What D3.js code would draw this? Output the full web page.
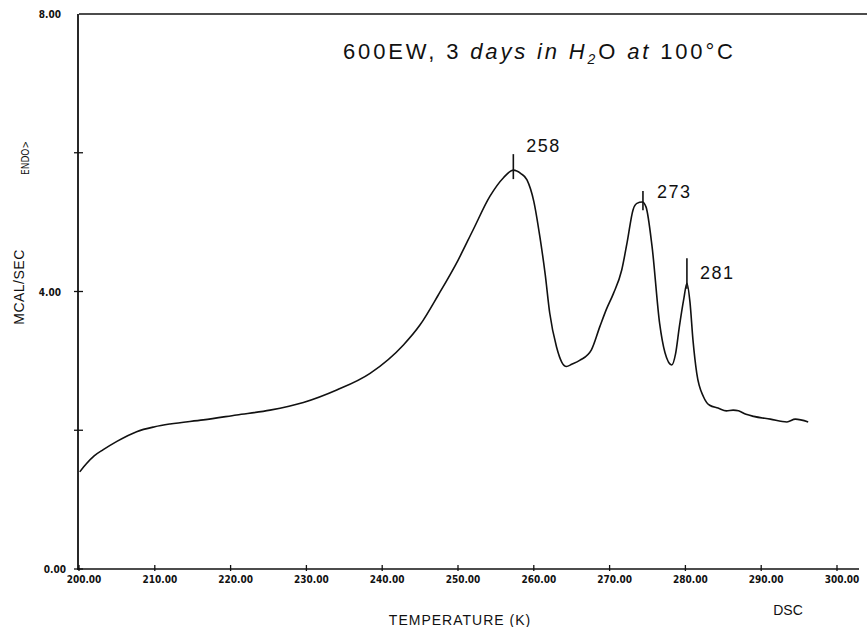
<!DOCTYPE html>
<html>
<head>
<meta charset="utf-8">
<script src="https://cdn.jsdelivr.net/npm/d3@7"></script>
<style>
  body { margin: 0; background: #fff; }
  svg { display: block; }
</style>
</head>
<body>
<div id="viz"></div>
<script>
var temperaturas = [200.1, 201.0, 202.0, 203.2, 205.0, 207.6, 210.0, 212.0, 216.4, 220.8,
  225.2, 229.6, 234.0, 238.4, 242.8, 245.0, 247.4, 250.0, 252.0, 254.2,
  256.0, 257.3, 258.3, 259.1, 260.0, 260.8, 261.5, 262.1, 263.0, 263.7,
  264.3, 265.0, 266.1, 267.6, 268.7, 269.6, 270.5, 271.6, 272.3, 273.1,
  273.6, 274.3, 274.8, 275.6, 276.6, 277.3, 278.2, 278.7,
  279.2, 279.8, 280.2, 280.6, 281.0, 281.5, 282.4, 283.2, 284.3, 285.4,
  286.3, 287.0, 288.0, 289.0, 291.2, 293.4, 294.5, 296.2];
var mcal = [1.40, 1.52, 1.63, 1.72, 1.84, 1.98, 2.05, 2.09, 2.15, 2.22,
  2.29, 2.40, 2.58, 2.82, 3.23, 3.52, 3.95, 4.45, 4.89, 5.37,
  5.64, 5.75, 5.70, 5.61, 5.30, 4.79, 4.25, 3.69, 3.20, 2.98,
  2.92, 2.95, 3.01, 3.16, 3.49, 3.75, 3.97, 4.31, 4.70, 5.18,
  5.27, 5.29, 5.22, 4.65, 3.54, 3.12, 2.94, 3.10,
  3.49, 3.90, 4.12, 3.85, 3.30, 2.82, 2.48, 2.36, 2.32, 2.28,
  2.29, 2.28, 2.23, 2.20, 2.16, 2.12, 2.16, 2.12];

// Picos marcados
var picosTemp = [257.3, 274.4, 280.2];
var picosValor = [5.75, 5.29, 4.12];
var picosTexto = ['258', '273', '281'];

// Ejes
var ticksX = [200, 210, 220, 230, 240, 250, 260, 270, 280, 290, 300];
var ticksY = [0, 2, 4, 6, 8];
var ticksYTexto = ['0.00', '', '4.00', '', '8.00'];

var width = 867, height = 627;
var negro = '#111';

var svg = d3.select('#viz')
  .append('svg')
  .attr('width', width)
  .attr('height', height)
  .style('background', '#fff');

var x = d3.scaleLinear().domain([200, 300]).range([79, 837]);
var y = d3.scaleLinear().domain([0, 8]).range([569, 14]);

// Marco: eje izquierdo, linea superior y eje inferior
svg.append('line')
  .attr('x1', x(200)).attr('y1', y(8))
  .attr('x2', width).attr('y2', y(8))
  .attr('stroke', negro).attr('stroke-width', 1.3);
svg.append('line')
  .attr('x1', x(200) - 1).attr('y1', y(8))
  .attr('x2', x(200) - 1).attr('y2', y(0) + 1)
  .attr('stroke', negro).attr('stroke-width', 1.8);
svg.append('line')
  .attr('x1', x(200) - 2).attr('y1', y(0))
  .attr('x2', x(300) + 22).attr('y2', y(0))
  .attr('stroke', negro).attr('stroke-width', 1.3);

// Ticks del eje X (cruces pequeñas)
svg.selectAll('.tickX')
  .data(ticksX)
  .enter().append('line')
  .attr('x1', function(d){ return x(d); })
  .attr('x2', function(d){ return x(d); })
  .attr('y1', y(0) - 4)
  .attr('y2', y(0) + 2)
  .attr('stroke', negro).attr('stroke-width', 1.3);

svg.selectAll('.tickXTexto')
  .data(ticksX)
  .enter().append('text')
  .attr('x', function(d){ return x(d) + 5; })
  .attr('y', y(0) + 14)
  .attr('text-anchor', 'middle')
  .style('font-family', '"DejaVu Sans Condensed", "DejaVu Sans", sans-serif')
  .style('font-weight', 'bold')
  .style('font-size', '10px')
  .attr('fill', negro)
  .text(function(d){ return d3.format('.2f')(d); });

// Ticks del eje Y
svg.selectAll('.tickY')
  .data(ticksY.slice(0, 4))
  .enter().append('line')
  .attr('x1', x(200) - 5)
  .attr('x2', x(200) + 4)
  .attr('y1', function(d){ return y(d); })
  .attr('y2', function(d){ return y(d); })
  .attr('stroke', negro).attr('stroke-width', 1.3);

svg.selectAll('.tickYTexto')
  .data(ticksY)
  .enter().append('text')
  .attr('x', function(d){ return d === 0 ? 66 : 61; })
  .attr('y', function(d){ return y(d) + 4; })
  .attr('text-anchor', 'end')
  .style('font-family', '"DejaVu Sans Condensed", "DejaVu Sans", sans-serif')
  .style('font-weight', 'bold')
  .style('font-size', '10px')
  .attr('fill', negro)
  .text(function(d, i){ return ticksYTexto[i]; });

// Curva DSC
var puntos = temperaturas.map(function(t, i){ return [t, mcal[i]]; });
var linea = d3.line()
  .x(function(d){ return x(d[0]); })
  .y(function(d){ return y(d[1]); })
  .curve(d3.curveMonotoneX);

svg.append('path')
  .datum(puntos)
  .attr('d', linea)
  .attr('fill', 'none')
  .attr('stroke', negro)
  .attr('stroke-width', 1.6);

// Marcas de los picos: linea vertical + etiqueta
var marcaArriba = [0.23, 0.16, 0.36];
var marcaAbajo = [0.13, 0.12, 0.08];
var etiquetaDx = [13, 14, 13];
var etiquetaDy = [-18, -4, -4];

for (var i = 0; i < picosTemp.length; i++) {
  svg.append('line')
    .attr('x1', x(picosTemp[i])).attr('x2', x(picosTemp[i]))
    .attr('y1', y(picosValor[i] + marcaArriba[i]))
    .attr('y2', y(picosValor[i] - marcaAbajo[i]))
    .attr('stroke', negro).attr('stroke-width', 1.6);

  svg.append('text')
    .attr('x', x(picosTemp[i]) + etiquetaDx[i])
    .attr('y', y(picosValor[i]) + etiquetaDy[i])
    .style('font-family', '"Liberation Sans", Arial, sans-serif')
    .style('font-size', '18px')
    .style('letter-spacing', '1.5px')
    .attr('fill', negro)
    .text(picosTexto[i]);
}

// Titulo
var titulo = svg.append('text')
  .attr('x', 343)
  .attr('y', 59)
  .attr('textLength', 390)
  .attr('lengthAdjust', 'spacing')
  .style('font-family', '"Liberation Sans", Arial, sans-serif')
  .style('font-size', '22px')
  .attr('fill', negro);
titulo.append('tspan').text('600EW, 3 ');
titulo.append('tspan').style('font-style', 'italic').text('days in H');
titulo.append('tspan').style('font-style', 'italic').style('font-size', '14px').attr('dy', 5).text('2');
titulo.append('tspan').attr('dy', -5).text('O ');
titulo.append('tspan').style('font-style', 'italic').text('at');
titulo.append('tspan').text(' 100°C');

// Etiquetas de los ejes
svg.append('text')
  .attr('transform', 'translate(24,287) rotate(-90)')
  .attr('text-anchor', 'middle')
  .style('font-family', '"Liberation Sans", Arial, sans-serif')
  .style('font-size', '14px')
  .style('letter-spacing', '0.5px')
  .attr('fill', negro)
  .text('MCAL/SEC');

svg.append('text')
  .attr('transform', 'translate(29,158) rotate(-90)')
  .attr('text-anchor', 'middle')
  .style('font-family', '"DejaVu Sans Condensed", "DejaVu Sans", sans-serif')
  .style('font-size', '10px')
  .attr('fill', negro)
  .text('ENDO>');

svg.append('text')
  .attr('x', 460)
  .attr('y', 625)
  .attr('text-anchor', 'middle')
  .style('font-family', '"Liberation Sans", Arial, sans-serif')
  .style('font-size', '14px')
  .style('letter-spacing', '1px')
  .attr('fill', negro)
  .text('TEMPERATURE  (K)');

svg.append('text')
  .attr('x', 788)
  .attr('y', 615)
  .attr('text-anchor', 'middle')
  .style('font-family', '"Liberation Sans", Arial, sans-serif')
  .style('font-size', '14px')
  .attr('fill', negro)
  .text('DSC');
</script>
</body>
</html>
